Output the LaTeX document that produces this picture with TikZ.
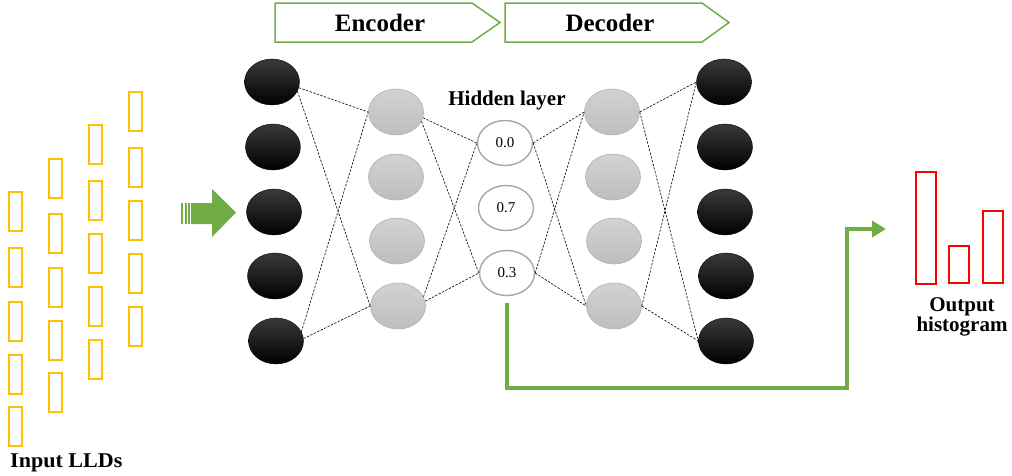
\documentclass[tikz,border=0pt]{standalone}
\usepackage{fontspec}
\setmainfont{Liberation Serif}
\usetikzlibrary{shapes.geometric,arrows.meta}
\definecolor{lldyellow}{HTML}{FFC000}
\definecolor{arrgreen}{HTML}{70AD47}
\definecolor{graytop}{HTML}{D2D2D2}
\definecolor{graybot}{HTML}{BEBEBE}
\definecolor{nodeedge}{HTML}{B0B0B0}
\definecolor{hidedge}{HTML}{A6A6A6}
\definecolor{blktop}{HTML}{3A3A3A}
\tikzset{
  blk/.style={ellipse, minimum width=55pt, minimum height=46pt, inner sep=0pt,
    top color=blktop, middle color=black, bottom color=black, draw=black, line width=0.4pt},
  gry/.style={ellipse, minimum width=55pt, minimum height=46pt, inner sep=0pt,
    top color=graytop, bottom color=graybot, draw=nodeedge, line width=0.6pt},
  hid/.style={ellipse, minimum width=55pt, minimum height=45pt, inner sep=0pt,
    fill=white, draw=hidedge, line width=1.4pt, font=\fontsize{15}{17}\selectfont},
  conn/.style={dash pattern=on 2.4pt off 1.4pt, line width=0.6pt, black},
  lld/.style={draw=lldyellow, line width=1.8pt},
  bar/.style={draw=red, line width=1.8pt},
  banner/.style={draw=arrgreen, line width=1.5pt},
  lbl/.style={font=\bfseries\fontsize{21}{23}\selectfont, inner sep=0pt},
}
\begin{document}
\begin{tikzpicture}[x=1pt,y=-1pt]
\useasboundingbox (0,0) rectangle (1012,475);

% input LLD columns
\foreach \x/\tops in {9/{192,248,302,355,407}, 49/{159,214,268,321,373},
                      89/{125,181,234,287,340}, 129/{92,148,201,254,307}} {
  \foreach \t in \tops {
    \draw[lld] (\x,\t) rectangle ++(13,39);
  }
}
\node[lbl, anchor=base west, xscale=1.05] (inlbl) at (10,467) {Input LLDs};

% striped block arrow
\fill[arrgreen] (181,203) rectangle (183,224);
\fill[arrgreen] (184.5,203) rectangle (186.5,224);
\fill[arrgreen] (188,203) rectangle (190,224);
\fill[arrgreen] (191,203) -- (212,203) -- (212,189) -- (236,212.5) -- (212,237) -- (212,224) -- (191,224) -- cycle;

% banners
\draw[banner] (275,3) -- (472,3) -- (500,22.5) -- (472,42) -- (275,42) -- cycle;
\node[font=\bfseries\fontsize{25}{27}\selectfont, inner sep=0pt] (enc) at (380,23) {Encoder};
\draw[banner] (505,3) -- (702,3) -- (729,22.5) -- (702,42) -- (505,42) -- cycle;
\node[font=\bfseries\fontsize{25}{27}\selectfont, inner sep=0pt] (dec) at (610,23) {Decoder};

% input layer
\node[blk] (i1) at (272,82) {};
\node[blk] (i2) at (273,147) {};
\node[blk] (i3) at (274,212) {};
\node[blk] (i4) at (275,276) {};
\node[blk] (i5) at (276,341) {};
% encoder layer
\node[gry] (e1) at (396,112) {};
\node[gry] (e2) at (396,177) {};
\node[gry] (e3) at (397,241) {};
\node[gry] (e4) at (398,306) {};
% hidden layer
\node[hid] (h1) at (505,143) {0.0};
\node[hid] (h2) at (506,208) {0.7};
\node[hid] (h3) at (507,273) {0.3};
\node[lbl] (hidlbl) at (507,100) {Hidden layer};
% decoder layer
\node[gry] (d1) at (612,112) {};
\node[gry] (d2) at (613,177) {};
\node[gry] (d3) at (614,241) {};
\node[gry] (d4) at (614,306) {};
% output layer
\node[blk] (o1) at (724,82) {};
\node[blk] (o2) at (725,147) {};
\node[blk] (o3) at (725,212) {};
\node[blk] (o4) at (726,276) {};
\node[blk] (o5) at (726,341) {};

% dashed connections
\draw[conn] (i1.-12) -- (e1.west);
\draw[conn] (i1.-20) -- (e4.west);
\draw[conn] (i5.20) -- (e1.west);
\draw[conn] (i5.5) -- (e4.west);
\draw[conn] (e1.-12) -- (h1.west);
\draw[conn] (e1.-20) -- (h3.west);
\draw[conn] (e4.20) -- (h1.west);
\draw[conn] (e4.10) -- (h3.west);
\draw[conn] (h1.east) -- (d1.west);
\draw[conn] (h1.east) -- (d4.west);
\draw[conn] (h3.east) -- (d1.west);
\draw[conn] (h3.east) -- (d4.west);
\draw[conn] (d1.east) -- (o1.west);
\draw[conn] (d1.east) -- (o5.west);
\draw[conn] (d4.east) -- (o1.west);
\draw[conn] (d4.east) -- (o5.west);

% histogram
\draw[bar] (916,172) rectangle (936,284);
\draw[bar] (949,246) rectangle (969,283);
\draw[bar] (983,211) rectangle (1003,283);
\coordinate (histin) at (886,229);
\node[lbl, align=center, anchor=north] (outlbl) at (962,297) {Output\\[-3pt]histogram};

% green connector
\draw[draw=arrgreen, line width=3.5pt, shorten <=7pt, -{Triangle[length=14pt,width=16pt]}]
  (h3.south) -- (h3.south |- 0,388) -- (847,388) -- (847,229) -- (histin);
\end{tikzpicture}
\end{document}
